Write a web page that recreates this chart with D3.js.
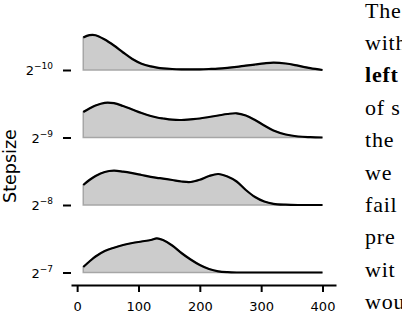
<!DOCTYPE html>
<html>
<head>
<meta charset="utf-8">
<script src="https://cdn.jsdelivr.net/npm/d3@7"></script>
<style>
  html, body { margin: 0; padding: 0; background: #fff; }
  svg { display: block; }
</style>
</head>
<body>
<div id="chart"></div>
<script>
// stepsize categories (exponent of 2), top to bottom
var stepExponents = [-10, -9, -8, -7]

// x positions where the densities were read
var iterations = [10, 20, 30, 45, 60, 75, 90, 105, 120, 130, 140, 155, 170, 185, 200, 215, 230, 245, 260, 275, 290, 305, 320, 340, 360, 380, 400]

// density per stepsize (arbitrary units)
var density_m10 = [32.5, 34.8, 34.8, 30.5, 24.5, 17.5, 11, 6.3, 3.6, 2.4, 1.6, 1, 0.7, 0.6, 0.7, 1, 1.4, 2.2, 3.2, 4.4, 5.5, 6.6, 7.3, 6.5, 4.3, 1.8, 0]
var density_m9 = [25.5, 29, 32, 34.7, 34.3, 31.5, 28, 24.5, 21.5, 20, 19, 17.8, 17.5, 18.2, 19, 20.5, 22, 23.5, 24.2, 22, 17.5, 12, 7, 3, 1, 0.3, 0]
var density_m8 = [20, 25, 29, 33, 34.3, 33.3, 31.8, 30, 28.2, 27.2, 26.4, 25, 23.5, 23, 25.3, 29, 31, 28.5, 23.5, 15, 8, 3.5, 1.2, 0.3, 0, 0, 0]
var density_m7 = [5.5, 11, 16, 21.5, 24.8, 27.5, 29.5, 31, 32.5, 34.2, 32.5, 27, 19.5, 13, 7.5, 3.5, 1.2, 0.3, 0, 0, 0, 0, 0, 0, 0, 0, 0]

var xTicks = [0, 100, 200, 300, 400]

// cropped text of the page next to the figure
var sideWords = ['The', 'with', 'left', 'of s', 'the', 'we', 'fail', 'pre', 'wit', 'wou']
var boldWords = ['left']

var densities = [density_m10, density_m9, density_m8, density_m7]

var width = 402, height = 318

var svg = d3.select('#chart').append('svg')
    .attr('width', width)
    .attr('height', height)

svg.append('rect')
    .attr('width', width)
    .attr('height', height)
    .attr('fill', '#fff')

var x = d3.scaleLinear()
    .domain([-10, 422])
    .range([71, 336])

var y = d3.scalePoint()
    .domain(stepExponents)
    .range([70, 272.5])

var h = d3.scaleLinear()
    .domain([0, 40])
    .range([0, 40])

var ridges = svg.append('g')

densities.forEach(function(values, i){
  var base = y(stepExponents[i])
  var pts = iterations.map(function(it, j){ return [it, values[j]] })

  var area = d3.area()
      .x(function(d){ return x(d[0]) })
      .y0(base)
      .y1(function(d){ return base - h(d[1]) })
      .curve(d3.curveCatmullRom)

  var line = d3.line()
      .x(function(d){ return x(d[0]) })
      .y(function(d){ return base - h(d[1]) })
      .curve(d3.curveCatmullRom)

  ridges.append('path')
      .attr('d', area(pts))
      .attr('fill', '#cccccc')
      .attr('stroke', '#a6a6a6')
      .attr('stroke-width', 1.5)

  ridges.append('path')
      .attr('d', line(pts))
      .attr('fill', 'none')
      .attr('stroke', '#000')
      .attr('stroke-width', 2.2)
})

// x axis
var xAxis = d3.axisBottom(x)
    .tickValues(xTicks)
    .tickSize(7)
    .tickSizeOuter(0)
    .tickPadding(10)

var gx = svg.append('g')
    .attr('transform', 'translate(0,285)')
    .call(xAxis)

gx.select('.domain').attr('stroke', '#000').attr('stroke-width', 2)
gx.selectAll('.tick line').attr('stroke', '#000').attr('stroke-width', 2)
gx.selectAll('.tick text')
    .attr('font-family', 'DejaVu Sans, sans-serif')
    .attr('font-size', '13px')
    .attr('fill', '#000')

// y axis (no spine, only ticks)
var yAxis = d3.axisLeft(y)
    .tickSize(8)
    .tickPadding(10)

var gy = svg.append('g')
    .attr('transform', 'translate(71,0)')
    .call(yAxis)

gy.select('.domain').remove()
gy.selectAll('.tick line').attr('stroke', '#000').attr('stroke-width', 2)
gy.selectAll('.tick text')
    .attr('font-family', 'DejaVu Sans, sans-serif')
    .attr('font-size', '13px')
    .attr('fill', '#000')
    .attr('dy', '0.38em')
    .text('')
    .each(function(d){
      var t = d3.select(this)
      t.append('tspan').text('2')
      t.append('tspan')
          .attr('font-size', '9px')
          .attr('dy', -6)
          .text('\u2212' + Math.abs(d))
    })

// axis title
svg.append('text')
    .attr('transform', 'translate(16,166) rotate(-90)')
    .attr('text-anchor', 'middle')
    .attr('font-family', 'DejaVu Sans, sans-serif')
    .attr('font-size', '17.5px')
    .attr('fill', '#000')
    .text('Stepsize')

// side text
svg.append('g').selectAll('text')
    .data(sideWords)
  .enter().append('text')
    .attr('x', 365)
    .attr('y', function(d, i){ return 17.5 + i * 32.4 })
    .attr('font-family', 'Liberation Serif, serif')
    .attr('font-size', '22px')
    .attr('letter-spacing', '0.8px')
    .attr('font-weight', function(d){ return boldWords.indexOf(d) >= 0 ? 'bold' : 'normal' })
    .attr('fill', '#000')
    .text(function(d){ return d })
</script>
</body>
</html>
